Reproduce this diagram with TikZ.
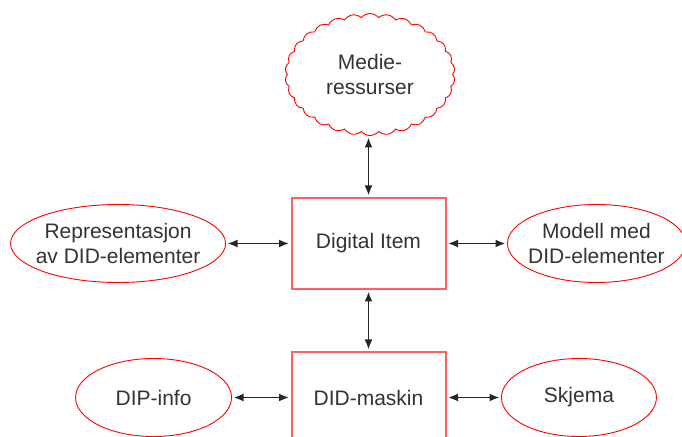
\documentclass[tikz,border=0pt]{standalone}
\usepackage{fontspec}
\setmainfont{Liberation Sans}
\usepackage{tikz}
\usetikzlibrary{arrows.meta,positioning}
\usetikzlibrary{shapes.geometric,shapes.symbols}
\definecolor{textgrey}{RGB}{51,51,51}
\definecolor{boxred}{RGB}{255,95,95}

\begin{document}
\begin{tikzpicture}[x=1pt, y=1pt,
                >={Latex[length=10pt,width=8pt]},
                every node/.append style={align=center, text=textgrey,
                    font=\fontsize{21}{25}\selectfont},
                link/.style={draw=black!85, line width=1.8pt, shorten <=1.5pt, shorten >=1.5pt},
                box/.style={rectangle, draw=boxred, line width=2pt, inner sep=0pt,
                    minimum width=154pt, minimum height=91pt},
                oval/.style={ellipse, draw=red, line width=0.9pt, inner sep=-25pt,
                    minimum height=78pt},
                puff/.style={cloud, cloud puffs=30, cloud puff arc=100,
                    cloud ignores aspect, draw=red, line width=0.9pt,
                    minimum width=170pt, minimum height=122pt}]

\useasboundingbox (0,0) rectangle (682,436);

\node[box] (item) at (368.5,192.5) {Digital Item};
\node[box, below=61pt of item] (maskin) {DID-maskin};
\node[puff, above=61pt of item, xshift=1.5pt] (medier) {Medie-\\ressurser};
\node[oval, minimum width=215pt, left=64.5pt of item] (repr) {Representasjon\\av DID-elementer};
\node[oval, minimum width=178pt, right=60.5pt of item] (modell) {Modell med\\DID-elementer};
\node[oval, minimum width=156pt, left=58.5pt of maskin] (dip) {DIP-info};
\node[oval, minimum width=155pt, right=54.5pt of maskin] (skjema) {Skjema};

\path[<->, every edge/.append style={link}]
    (repr) edge (item)
    (item) edge (modell)
    (dip) edge (maskin)
    (maskin) edge (skjema)
    (item) edge (maskin)
    (item.north |- medier.south) edge (item.north);

\end{tikzpicture}
\end{document}
